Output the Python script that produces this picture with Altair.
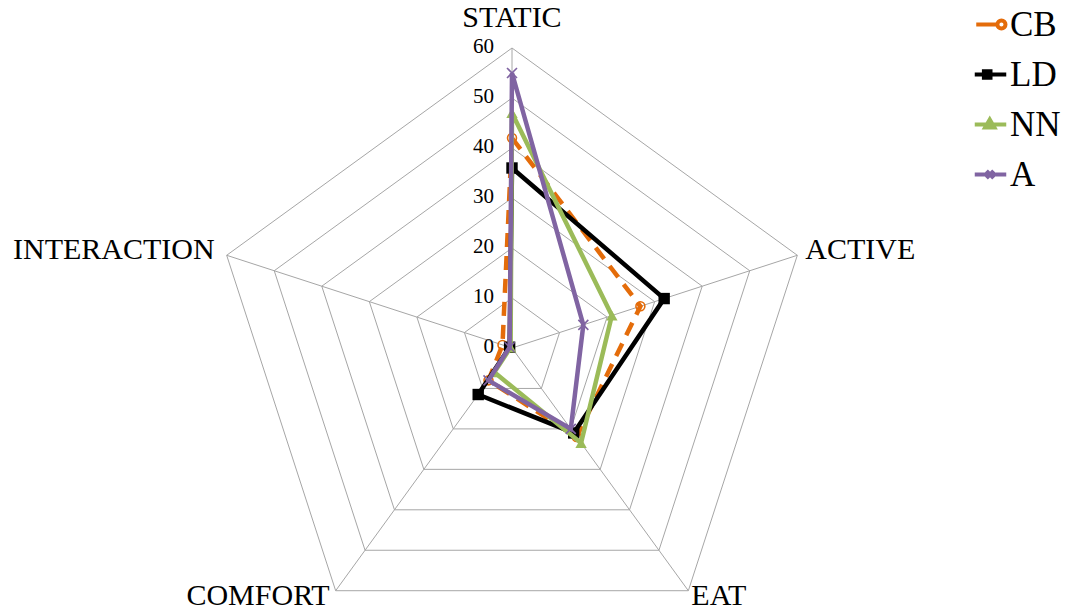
import altair as alt
import pandas as pd

# Radar chart of behaviour shares (%) for four methods
categories = ["STATIC", "ACTIVE", "EAT", "COMFORT", "INTERACTION"]
series_names = ["CB", "LD", "NN", "A"]
cb_values = [42, 27, 22, 8, 2]
ld_values = [36, 32, 21, 11.5, 0.5]
nn_values = [47, 21, 23.5, 6, 0.3]
a_values = [55, 15, 20, 8, 0.5]
tick_levels = [0, 10, 20, 30, 40, 50, 60]
grid_levels = [10, 20, 30, 40, 50, 60]

series_colors = ["#E46C0A", "#000000", "#9BBB59", "#8064A2"]

W, H = 1068, 611
CX, CY = 512, 348       # where the centre of the web sits
PX_PER_UNIT = 5.0       # pixels per percentage point
R_MAX = 60

FONT = "Liberation Serif"

values = {"CB": cb_values, "LD": ld_values, "NN": nn_values, "A": a_values}
values_df = pd.DataFrame(
    [
        {"series": s, "category": c, "idx": i, "value": values[s][i]}
        for s in series_names
        for i, c in enumerate(categories)
    ]
)
grid_df = pd.DataFrame(
    [{"level": lv, "idx": i} for lv in grid_levels for i in range(len(categories))]
)
cat_df = pd.DataFrame([{"category": c, "idx": i} for i, c in enumerate(categories)])
tick_df = pd.DataFrame({"level": tick_levels, "label": [str(t) for t in tick_levels]})

xs = alt.Scale(domain=[-CX / PX_PER_UNIT, (W - CX) / PX_PER_UNIT], nice=False, zero=False)
ys = alt.Scale(domain=[-(H - CY) / PX_PER_UNIT, CY / PX_PER_UNIT], nice=False, zero=False)
X = alt.X("px:Q", scale=xs, axis=None)
Y = alt.Y("py:Q", scale=ys, axis=None)

ANG = "datum.idx * 2 * PI / 5"


def polar(chart, radius_expr):
    return chart.transform_calculate(ang=ANG).transform_calculate(
        px=f"({radius_expr}) * sin(datum.ang)",
        py=f"({radius_expr}) * cos(datum.ang)",
    )


grid = polar(alt.Chart(grid_df), "datum.level").mark_line(
    interpolate="linear-closed", color="#a6a6a6", strokeWidth=1
).encode(x=X, y=Y, detail="level:N", order="idx:Q")

spokes = (
    polar(alt.Chart(cat_df), str(R_MAX))
    .transform_calculate(ox="0", oy="0")
    .mark_rule(color="#a6a6a6", strokeWidth=1)
    .encode(
        x=alt.X("ox:Q", scale=xs, axis=None),
        y=alt.Y("oy:Q", scale=ys, axis=None),
        x2="px:Q",
        y2="py:Q",
    )
)

ticks = (
    alt.Chart(tick_df)
    .transform_calculate(px="0", py="datum.level")
    .mark_text(align="right", baseline="middle", dx=-18, dy=-1, font=FONT, fontSize=21, color="#000000")
    .encode(x=X, y=Y, text="label:N")
)


def cat_label(idx, align, dx, dy):
    return (
        polar(alt.Chart(cat_df), str(R_MAX))
        .transform_filter(f"datum.idx == {idx}")
        .mark_text(align=align, baseline="middle", dx=dx, dy=dy, font=FONT, fontSize=30, color="#000000")
        .encode(x=X, y=Y, text="category:N")
    )


labels = [
    cat_label(0, "center", 0, -30),
    cat_label(1, "left", 8, -5),
    cat_label(2, "left", 3, 5),
    cat_label(3, "right", -6, 5),
    cat_label(4, "right", -12, -5),
]

point_styles = {
    "CB": dict(shape="circle", filled=False, size=80, strokeWidth=1.6),
    "LD": dict(shape="square", filled=True, size=130),
    "NN": dict(shape="triangle-up", filled=True, size=130),
    "A": dict(shape="M-1,-1L1,1M-1,1L1,-1", filled=False, size=100, strokeWidth=1.6),
}

series_layers = []
for name, color in zip(series_names, series_colors):
    base = polar(alt.Chart(values_df), "datum.value").transform_filter(
        f"datum.series == '{name}'"
    )
    line_kw = dict(interpolate="linear-closed", color=color, strokeWidth=4.5)
    if name == "CB":
        line_kw["strokeDash"] = [14, 9]
    series_layers.append(base.mark_line(**line_kw).encode(x=X, y=Y, order="idx:Q"))
    series_layers.append(base.mark_point(color=color, opacity=1, **point_styles[name]).encode(x=X, y=Y))

# legend symbols: a short line with the series marker on it
legend_paths = [
    "M-0.95,0H0.45M1.0,0A0.27,0.27 0 1,1 0.46,0A0.27,0.27 0 1,1 1.0,0",
    "M-1.05,0H1.05M-0.44,-0.22H0V0.22H-0.44Z",
    "M-1.05,0H1.05M-0.05,-0.34L0.26,0.2H-0.36Z",
    "M-1.05,0H1.05M-0.27,-0.24L0.21,0.24M-0.27,0.24L0.21,-0.24",
]
legend_kw = dict(
    title=None,
    orient="none",
    legendX=973,
    legendY=7,
    labelFont=FONT,
    labelFontSize=35,
    labelColor="#000000",
    symbolSize=900,
    symbolStrokeWidth=4,
    symbolOpacity=1,
    rowPadding=14,
    labelOffset=2,
    padding=0,
)
legend_layer = (
    polar(alt.Chart(values_df), "datum.value")
    .mark_point(filled=False, opacity=0)
    .encode(
        x=X,
        y=Y,
        color=alt.Color(
            "series:N",
            scale=alt.Scale(domain=series_names, range=series_colors),
            legend=alt.Legend(**legend_kw),
        ),
        shape=alt.Shape(
            "series:N",
            scale=alt.Scale(domain=series_names, range=legend_paths),
            legend=alt.Legend(**legend_kw),
        ),
    )
)

chart = (
    alt.layer(grid, spokes, ticks, *labels, *series_layers, legend_layer)
    .properties(width=W, height=H, padding=0, autosize="none", background="#ffffff")
    .configure_view(stroke=None)
)

chart.save("out.html", embed_options={"renderer": "svg", "actions": False})
